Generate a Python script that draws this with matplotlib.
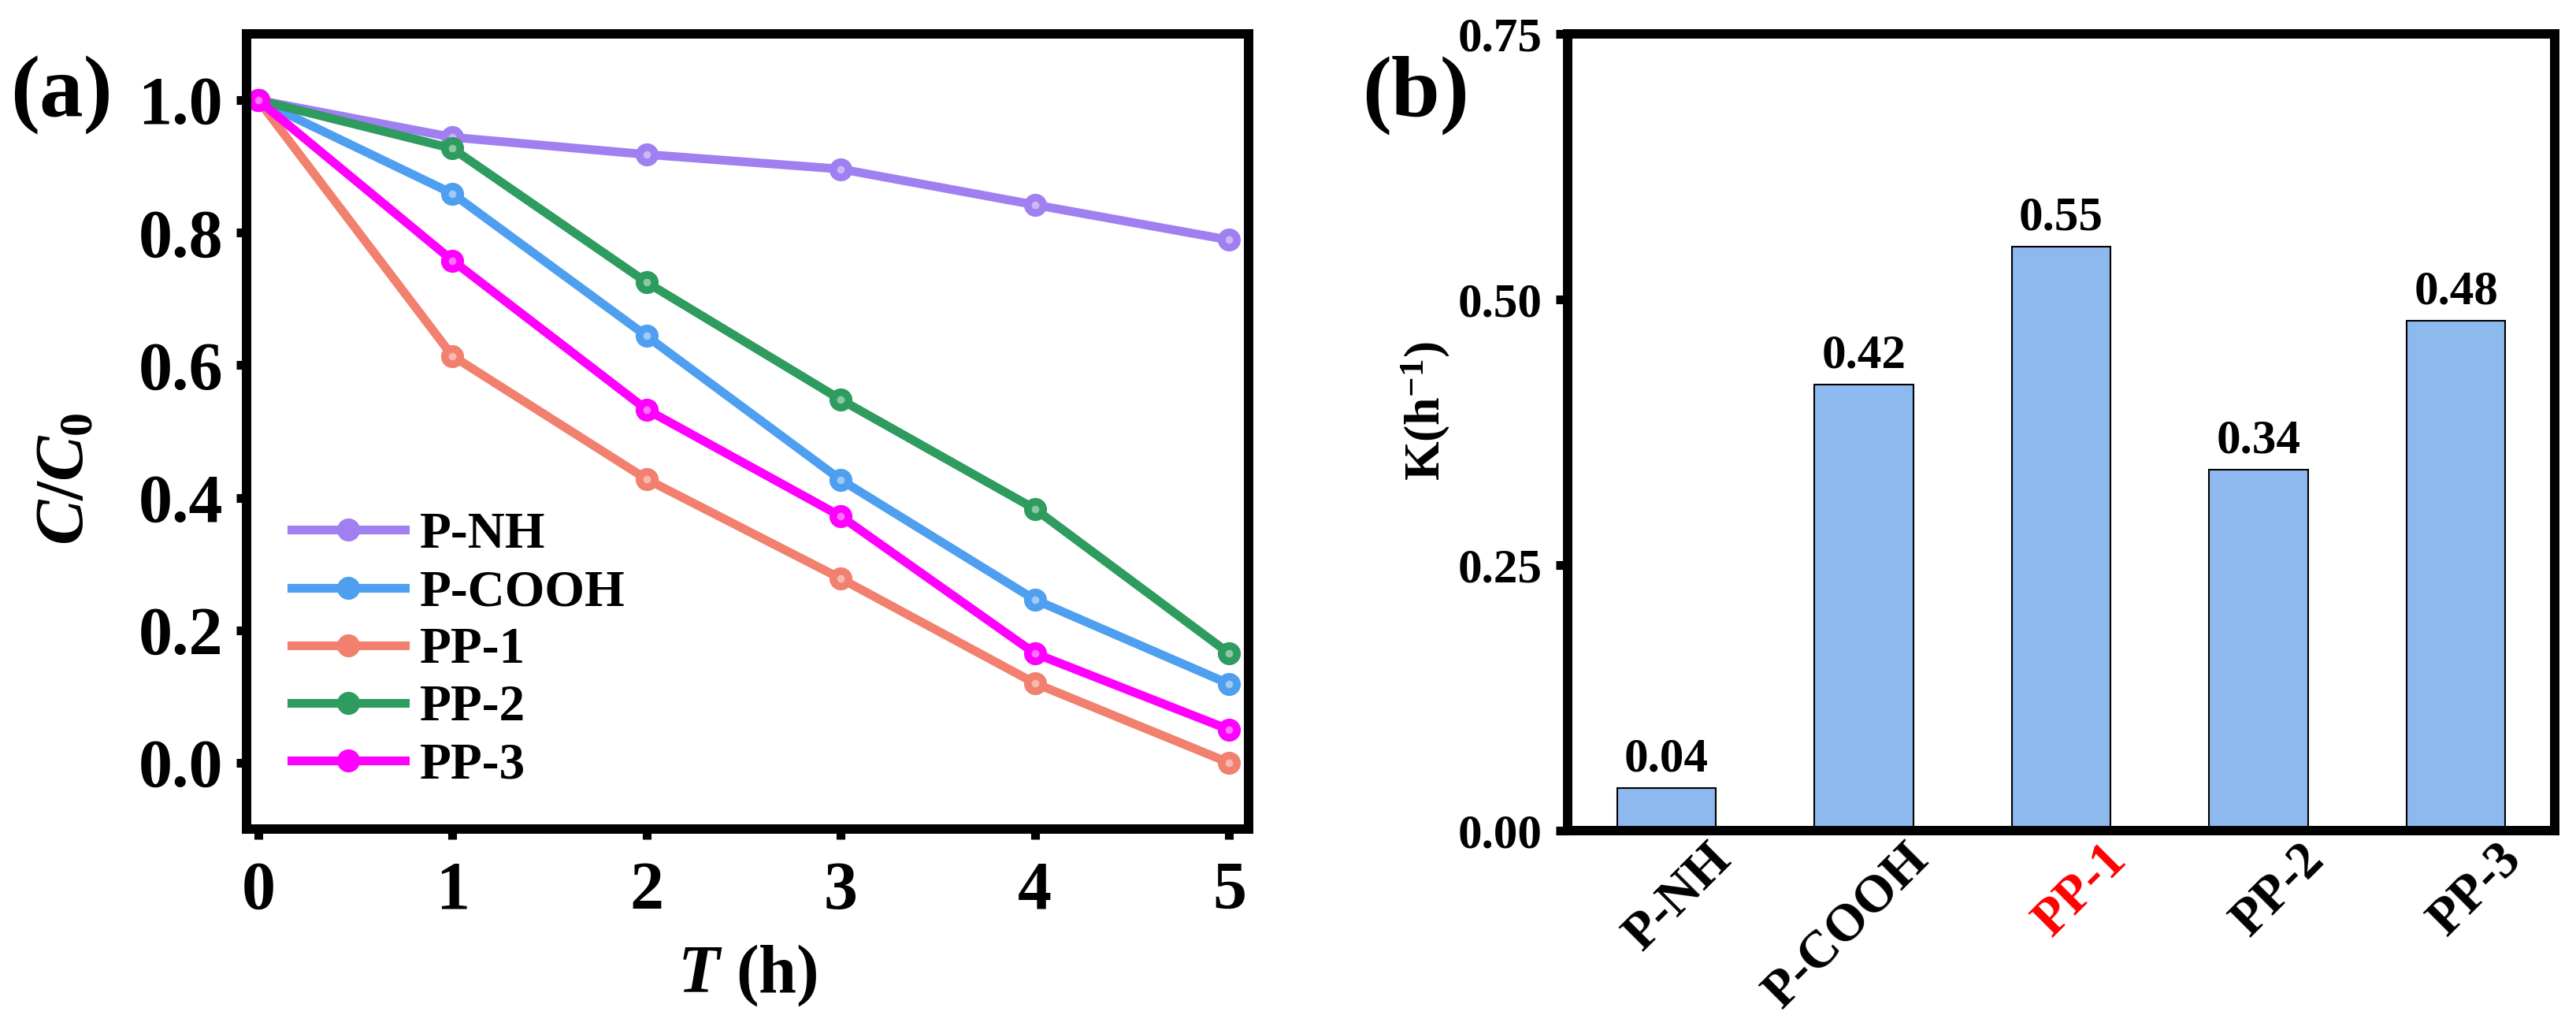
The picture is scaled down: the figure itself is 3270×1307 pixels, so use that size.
import matplotlib
matplotlib.use("Agg")
import matplotlib.pyplot as plt
from matplotlib.ticker import MultipleLocator
from matplotlib.transforms import ScaledTranslation

# ---- data ----
hours = [0, 1, 2, 3, 4, 5]
series_names = ["P-NH", "P-COOH", "PP-1", "PP-2", "PP-3"]
p_nh = [1.0, 0.944, 0.918, 0.896, 0.842, 0.789]
p_cooh = [1.0, 0.859, 0.644, 0.427, 0.246, 0.119]
pp_1 = [1.0, 0.614, 0.428, 0.278, 0.120, 0.0]
pp_2 = [1.0, 0.927, 0.725, 0.548, 0.383, 0.165]
pp_3 = [1.0, 0.758, 0.533, 0.372, 0.165, 0.050]
series_colors = ["#a07ff0", "#4f9ff0", "#f2806f", "#2e9b5f", "#ff00ff"]

samples = ["P-NH", "P-COOH", "PP-1", "PP-2", "PP-3"]
k_values = [0.04, 0.42, 0.55, 0.34, 0.48]
k_labels = ["0.04", "0.42", "0.55", "0.34", "0.48"]

W, H = 3270, 1307
plt.rcParams.update({
    "font.family": "Liberation Serif",
    "font.weight": "bold",
    "axes.labelweight": "bold",
    "mathtext.fontset": "custom",
    "mathtext.rm": "Liberation Serif:bold",
    "mathtext.it": "Liberation Serif:italic:bold",
    "mathtext.bf": "Liberation Serif:bold",
})

fig = plt.figure(figsize=(W / 100, H / 100), dpi=100)


def px_axes(left, top, right, bottom):
    return fig.add_axes([left / W, 1 - bottom / H, (right - left) / W, (bottom - top) / H])


def frame(ax, lw=8.6):
    for s in ax.spines.values():
        s.set_linewidth(lw)
        s.set_color("black")


# ---- (a) decay curves ----
ax1 = px_axes(313, 43, 1585, 1052)
frame(ax1)
ys = [p_nh, p_cooh, pp_1, pp_2, pp_3]
for name, y, c in zip(series_names, ys, series_colors):
    ax1.plot(hours, y, color=c, lw=8, marker="o", ms=20, mec=c, mfc=c, label=name)
    ax1.plot(hours, y, ls="none", marker="o", ms=7, mfc="white", mec="none", alpha=0.45)
ax1.set_xlim(-0.06, 5.1)
ax1.set_ylim(-0.1, 1.1)
ax1.xaxis.set_major_locator(MultipleLocator(1))
ax1.xaxis.set_minor_locator(MultipleLocator(0.5))
ax1.yaxis.set_minor_locator(MultipleLocator(0.1))
ax1.set_yticks([0, 0.2, 0.4, 0.6, 0.8, 1.0])
ax1.set_yticklabels(["0.0", "0.2", "0.4", "0.6", "0.8", "1.0"])
ax1.tick_params(which="major", direction="out", length=9.5, width=8, labelsize=62)
ax1.tick_params(which="minor", direction="out", length=3.5, width=8)
ax1.tick_params(axis="x", which="major", pad=20)
ax1.tick_params(axis="y", which="major", pad=12)
ax1.set_xlabel(r"$T$ (h)", fontsize=62)
ax1.xaxis.label.set_va("center")
ax1.xaxis.set_label_coords(0.5, -0.185)
ax1.set_ylabel(r"$C/C_\mathit{0}$", fontsize=62)
ax1.yaxis.label.set_va("center")
ax1.yaxis.set_label_coords(-0.18, 0.44)
leg = ax1.legend(loc="lower left", bbox_to_anchor=(0.045, 0.05), frameon=False,
                 fontsize=47, handlelength=2.2, handletextpad=0.3, labelspacing=0.2,
                 borderpad=0, borderaxespad=0)
for t in leg.get_texts():
    t.set_fontweight("bold")

fig.text(13 / W, 1 - 121 / H, "(a)", fontsize=80, fontweight="bold", va="center", ha="left")

# ---- (b) rate constants ----
ax2 = px_axes(1990, 43, 3243, 1054)
frame(ax2)
pos = list(range(len(samples)))
ax2.bar(pos, k_values, width=0.5, color="#8db9ee", edgecolor="black", linewidth=1.5)
for x, v, lab in zip(pos, k_values, k_labels):
    ax2.text(x, v + 0.016, lab, ha="center", va="baseline", fontsize=44, fontweight="bold")
ax2.set_xlim(-0.5, 4.5)
ax2.set_ylim(0, 0.75)
ax2.yaxis.set_minor_locator(MultipleLocator(0.125))
ax2.set_yticks([0, 0.25, 0.5, 0.75])
ax2.set_yticklabels(["0.00", "0.25", "0.50", "0.75"])
ax2.set_xticks(pos)
ax2.set_xticklabels(samples, rotation=45, ha="right", va="top", rotation_mode="anchor")
ax2.tick_params(axis="x", length=0, labelsize=48, pad=4)
ax2.tick_params(axis="y", which="major", direction="out", length=10.5, width=8, labelsize=44, pad=13)
ax2.tick_params(axis="y", which="minor", direction="out", length=3.5, width=8)
shift = ScaledTranslation(0.52, 0, fig.dpi_scale_trans)
for t in ax2.get_xticklabels():
    t.set_transform(t.get_transform() + shift)
    if t.get_text() == "PP-1":
        t.set_color("red")
ax2.set_ylabel(r"K(h$^{-1}$)", fontsize=46)
ax2.yaxis.label.set_va("center")
ax2.yaxis.set_label_coords(-0.144, 0.527)

fig.text(1729 / W, 1 - 121 / H, "(b)", fontsize=80, fontweight="bold", va="center", ha="left")

fig.savefig("out.png", dpi=100)
